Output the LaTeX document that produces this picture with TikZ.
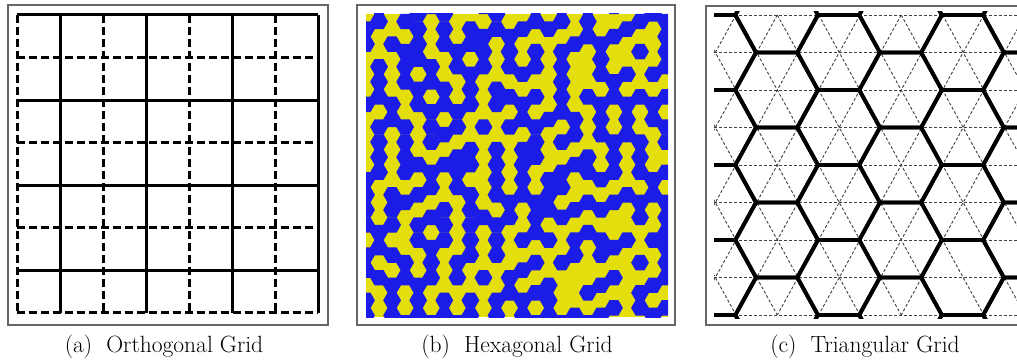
\documentclass[tikz,border=0pt]{standalone}
\usepackage{fix-cm}
\usepackage{tikz}
\usetikzlibrary{positioning}
\definecolor{hexblue}{RGB}{28,28,232}
\definecolor{hexyellow}{RGB}{228,222,12}
% colour of a stored hex cell, -1 when there is none
\newcommand\hexget[2]{\ifcsname hc#1:#2\endcsname\csname hc#1:#2\endcsname\else -1\fi}

\begin{document}
\begin{tikzpicture}[x=1pt,y=-1pt,
  every node/.style={font=\fontsize{23.5}{28}\selectfont},
  frame/.style={draw=black!60,line width=1.2pt},
  solidline/.style={line width=3pt},
  dashline/.style={line width=3pt,dash pattern=on 8pt off 4pt},
  latline/.style={draw=black!75,line width=0.9pt,dash pattern=on 3pt off 2pt},
  honey/.style={line width=3.8pt,line join=round}]
  \useasboundingbox (0,0) rectangle (1017,361);

  % orthogonal
  \draw[frame] (8,5) rectangle (328,325);
  \foreach \i in {1,3,5,7} {
    \draw[dashline] (17,15+42.57*\i) -- (318,15+42.57*\i);
  }
  \foreach \i in {0,2,4,6} {
    \draw[dashline] (17+43*\i,15) -- (17+43*\i,313);
  }
  \foreach \i in {0,2,4,6} {
    \draw[solidline] (17,15+42.57*\i) -- (318,15+42.57*\i);
  }
  \foreach \i in {1,3,5,7} {
    \draw[solidline] (17+43*\i,15) -- (17+43*\i,313);
  }
  \node[anchor=base] (capA) at (164,352) {(a)\hspace{0.6em}Orthogonal Grid};

  % hexagonal
  \draw[frame] (357,5) rectangle (675,325);
  \begin{scope}
    \clip (366,14) rectangle (668,317);
    \fill[hexyellow] (366,14) rectangle (668,317);
    \pgfmathsetseed{23}
    \foreach \c in {0,...,23} {
      \foreach \r in {-1,...,20} {
        \pgfmathtruncatemacro\pc{\c-1}
        \pgfmathtruncatemacro\up{\r-1}
        \pgfmathtruncatemacro\la{\r-1+mod(\c,2)}
        \pgfmathtruncatemacro\lb{\la+1}
        \edef\hA{\hexget{\c}{\up}}
        \edef\hB{\hexget{\pc}{\la}}
        \edef\hC{\hexget{\pc}{\lb}}
        \def\fa{-1}\def\fb{-1}
        \ifnum\hA=\hB\relax \ifnum\hA>-1\relax \edef\fa{\hA}\fi\fi
        \ifnum\hB=\hC\relax \ifnum\hB>-1\relax \edef\fb{\hB}\fi\fi
        \pgfmathtruncatemacro\hv{rnd<0.5?1:0}
        \pgfmathtruncatemacro\hk{rnd<0.72?1:0}
        \ifnum\hk=1\relax
          \ifnum\fa>-1\relax
            \ifnum\fb>-1\relax
              \ifnum\fa=\fb\relax \pgfmathtruncatemacro\hv{1-\fa}\fi
            \else
              \pgfmathtruncatemacro\hv{1-\fa}
            \fi
          \else
            \ifnum\fb>-1\relax \pgfmathtruncatemacro\hv{1-\fb}\fi
          \fi
        \fi
        \expandafter\xdef\csname hc\c:\r\endcsname{\hv}
        \pgfmathsetmacro\hx{366+13.05*\c}
        \pgfmathsetmacro\hy{14+15.07*\r+7.535*mod(\c,2)}
        \ifnum\hv=1\relax
          \fill[hexblue] (\hx,\hy) +(0:8.9) -- +(60:8.9) -- +(120:8.9)
            -- +(180:8.9) -- +(240:8.9) -- +(300:8.9) -- cycle;
        \fi
      }
    }
  \end{scope}
  \node[anchor=base] (capB) at (517,352) {(b)\hspace{0.6em}Hexagonal Grid};

  % triangular
  \begin{scope}
    \clip (700,0) rectangle (1017,361);
    \draw[frame] (706,6) rectangle (1026,325);
    \begin{scope}
      \clip (714,15) rectangle (1017,315);
      \foreach \k in {0,...,8} {
        \draw[latline] (714,15+37.5*\k) -- (1017,15+37.5*\k);
      }
      \foreach \m in {-5,...,8} {
        \draw[latline] (736+41.3*\m,15) -- (736+41.3*\m+165.2,315);
        \draw[latline] (736+41.3*\m,15) -- (736+41.3*\m-165.2,315);
      }
    \end{scope}
    \begin{scope}
      \clip (714,12) rectangle (1017,318);
      \foreach \k in {-1,...,9} {
        \foreach \m in {-1,...,2} {
          \pgfmathsetmacro\cx{714.7+61.95*mod(\k+1,2)+123.9*\m}
          \pgfmathsetmacro\cy{15+37.5*\k}
          \draw[honey] (\cx-41.3,\cy) -- (\cx-20.65,\cy-37.5) -- (\cx+20.65,\cy-37.5)
            -- (\cx+41.3,\cy) -- (\cx+20.65,\cy+37.5) -- (\cx-20.65,\cy+37.5) -- cycle;
        }
      }
    \end{scope}
  \end{scope}
  \node[anchor=base] (capC) at (865,352) {(c)\hspace{0.6em}Triangular Grid};
\end{tikzpicture}
\end{document}
